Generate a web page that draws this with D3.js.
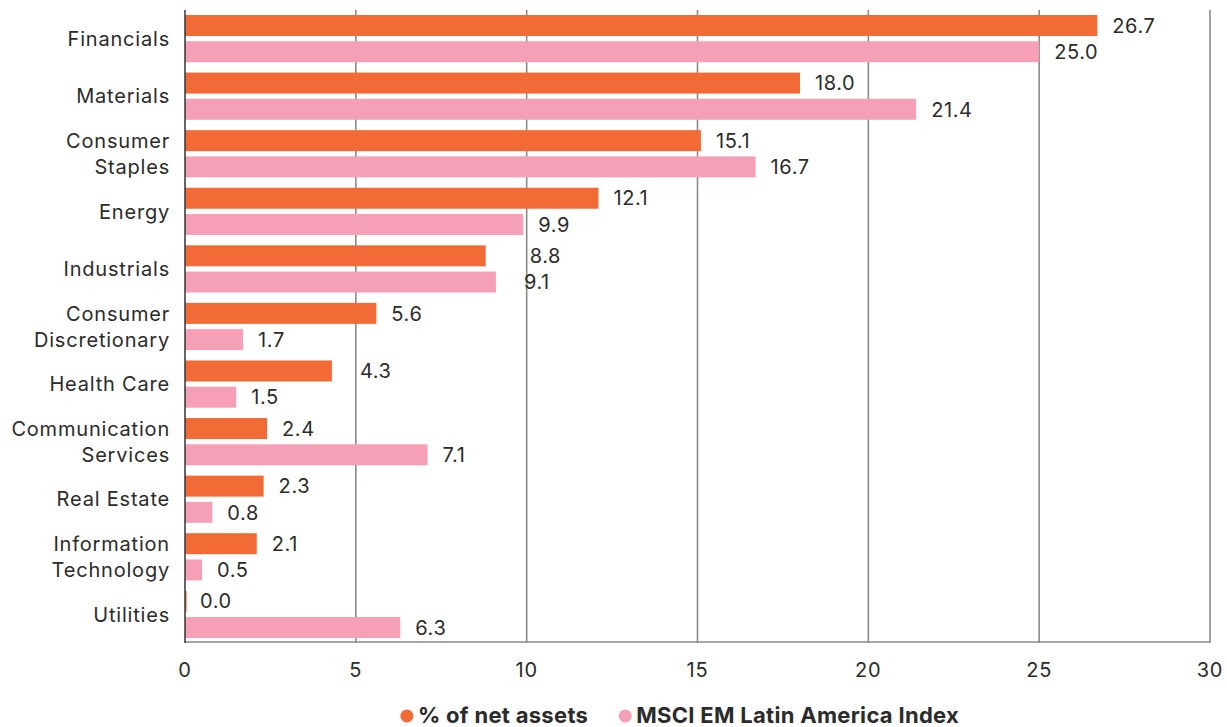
<!DOCTYPE html>
<html>
<head>
<meta charset="utf-8">
<script src="https://cdn.jsdelivr.net/npm/d3@7"></script>
<style>
  body { margin: 0; background: #fff; }
  text { font-family: Inter, "Open Sans", sans-serif; fill: #2b2b2b; }
</style>
</head>
<body>
<svg id="chart"></svg>
<script>
// data
const categories = ["Financials", "Materials", "Consumer Staples", "Energy", "Industrials",
  "Consumer Discretionary", "Health Care", "Communication Services", "Real Estate",
  "Information Technology", "Utilities"];
const tickLabels = [["Financials"], ["Materials"], ["Consumer", "Staples"], ["Energy"], ["Industrials"],
  ["Consumer", "Discretionary"], ["Health Care"], ["Communication", "Services"], ["Real Estate"],
  ["Information", "Technology"], ["Utilities"]];
const seriesNames = ["% of net assets", "MSCI EM Latin America Index"];
const netAssets = [26.7, 18.0, 15.1, 12.1, 8.8, 5.6, 4.3, 2.4, 2.3, 2.1, 0.0];
const benchmark = [25.0, 21.4, 16.7, 9.9, 9.1, 1.7, 1.5, 7.1, 0.8, 0.5, 6.3];
const xTicks = [0, 5, 10, 15, 20, 25, 30];
const colors = ["#f26a36", "#f5a0b6"];

// a few value labels are pushed right in the original
const labelNudge = { "Industrials|0": 29, "Industrials|1": 13, "Health Care|0": 13 };

const width = 1227, height = 727;
const svg = d3.select("#chart").attr("width", width).attr("height", height);

const x = d3.scaleLinear().domain([0, 30]).range([185, 1210]);
const y = d3.scaleBand().domain(categories).range([15, 638]).paddingInner(0.18);
const ySub = d3.scaleBand().domain([0, 1]).range([0, y.bandwidth()]).paddingInner(0.2);

// gridlines
svg.append("g").selectAll("line")
  .data(xTicks.slice(1))
  .join("line")
  .attr("x1", d => x(d)).attr("x2", d => x(d))
  .attr("y1", 10).attr("y2", 643)
  .attr("stroke", "#8a8a8a").attr("stroke-width", 1.6);

// bottom axis line
svg.append("line")
  .attr("x1", x(0)).attr("x2", x(30))
  .attr("y1", 642).attr("y2", 642)
  .attr("stroke", "#8a8a8a").attr("stroke-width", 1.6);

// x tick labels
svg.append("g").selectAll("text")
  .data(xTicks)
  .join("text")
  .attr("x", d => x(d))
  .attr("y", 677)
  .attr("text-anchor", "middle")
  .style("font-size", "20px")
  .style("letter-spacing", "0.8px")
  .text(d => d);

// bars
const rows = categories.map((c, i) => ({ cat: c, values: [netAssets[i], benchmark[i]] }));

const group = svg.append("g").selectAll("g")
  .data(rows)
  .join("g")
  .attr("transform", d => `translate(0, ${y(d.cat)})`);

group.selectAll("rect")
  .data(d => d.values.map((v, k) => ({ cat: d.cat, k, v })))
  .join("rect")
  .attr("x", x(0))
  .attr("y", d => ySub(d.k))
  .attr("width", d => Math.max(x(d.v) - x(0), 1.5))
  .attr("height", ySub.bandwidth())
  .attr("fill", d => colors[d.k]);

group.selectAll("text")
  .data(d => d.values.map((v, k) => ({ cat: d.cat, k, v })))
  .join("text")
  .attr("x", d => x(d.v) + 15 + (labelNudge[d.cat + "|" + d.k] || 0))
  .attr("y", d => ySub(d.k) + ySub.bandwidth() / 2)
  .attr("dy", "0.36em")
  .style("font-size", "20px")
  .style("letter-spacing", "0.6px")
  .text(d => d.v.toFixed(1));

// left axis line
svg.append("line")
  .attr("x1", x(0)).attr("x2", x(0))
  .attr("y1", 10).attr("y2", 643)
  .attr("stroke", "#333").attr("stroke-width", 1.5);

// category labels
const catLabel = svg.append("g").selectAll("text")
  .data(categories)
  .join("text")
  .attr("text-anchor", "end")
  .style("font-size", "20px")
  .style("letter-spacing", "0.8px")
  .attr("transform", d => `translate(170, ${y(d) + y.bandwidth() / 2})`);

catLabel.selectAll("tspan")
  .data((d, i) => tickLabels[i].map((t, j, arr) => ({ t, j, n: arr.length })))
  .join("tspan")
  .attr("x", 0)
  .attr("y", d => (d.j - (d.n - 1) / 2) * 26)
  .attr("dy", "0.36em")
  .text(d => d.t);

// legend
const legend = svg.append("g");
let lx = 0;
seriesNames.forEach((name, i) => {
  legend.append("circle")
    .attr("cx", lx + 6).attr("cy", 716).attr("r", 6.5)
    .attr("fill", colors[i]);
  const t = legend.append("text")
    .attr("x", lx + 17).attr("y", 723)
    .style("font-size", "22px").style("font-weight", "bold")
    .style("letter-spacing", "0.3px")
    .text(name);
  lx += 17 + t.node().getComputedTextLength() + 31;
});
const legendWidth = lx - 31;
legend.attr("transform", `translate(${680 - legendWidth / 2}, 0)`);
</script>
</body>
</html>
